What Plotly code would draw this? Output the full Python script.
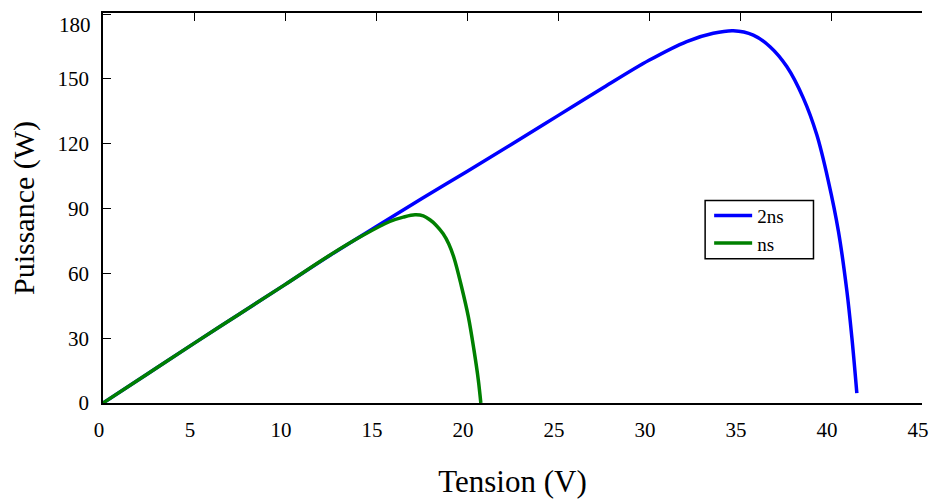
import plotly.graph_objects as go

# Series
v_2ns = [0, 2.5, 5, 7.5, 10, 12.5, 15, 17.5, 20, 22.5, 25, 27.5, 30, 32.07,
         33.53, 34.63, 35.73, 36.65, 37.57, 38.48, 39.22, 39.86, 40.41, 40.87, 41.15, 41.42]
p_2ns = [0, 13.8, 27.6, 41.2, 54.8, 68.5, 81.6, 94.5, 107.2, 120.0, 133.0, 146.0, 158.6, 167.3,
         171.1, 172.3, 170.3, 164.9, 155.7, 141.1, 124.1, 102.5, 79.4, 52.0, 30.0, 4.6]

v_ns = [0, 2.5, 5, 7.5, 10, 12.46, 14.29, 15.76, 16.5, 17.14, 17.6, 17.96, 18.3, 18.69,
        19.0, 19.3, 19.70, 20.07, 20.38, 20.62, 20.76]
p_ns = [0, 13.8, 27.6, 41.2, 54.8, 68.4, 77.6, 84.0, 86.0, 87.1, 86.6, 84.8, 82.3, 78.3,
        73.6, 66.8, 53.8, 40.1, 24.7, 10.8, 0]

x_ticks = [0, 5, 10, 15, 20, 25, 30, 35, 40, 45]
y_ticks = [0, 30, 60, 90, 120, 150, 180]
y_ticktext = ["0", "30", "60", "90", "120", "150", ""]

FONT = "Liberation Serif"

fig = go.Figure()
fig.add_trace(go.Scatter(x=v_2ns, y=p_2ns, mode="lines", name="2ns",
                         line=dict(color="#0000FF", width=3.5, shape="spline", smoothing=1.0)))
fig.add_trace(go.Scatter(x=v_ns, y=p_ns, mode="lines", name="ns",
                         line=dict(color="#008000", width=3.5, shape="spline", smoothing=1.0)))
# invisible trace for top axis
fig.add_trace(go.Scatter(x=[0, 45], y=[0, 0], xaxis="x2", mode="lines",
                         line=dict(width=0), showlegend=False, hoverinfo="skip"))

fig.update_layout(
    width=934, height=499,
    margin=dict(l=103, r=12, t=13, b=96),
    paper_bgcolor="white", plot_bgcolor="white",
    font=dict(family=FONT, color="black", size=20),
    showlegend=True,
    legend=dict(x=0.7401, y=0.5293, xanchor="left", yanchor="top",
                borderwidth=0, bgcolor="rgba(0,0,0,0)",
                font=dict(family=FONT, size=19, color="black"),
                tracegroupgap=0, itemwidth=38),
    shapes=[dict(type="rect", xref="paper", yref="paper", x0=0.7352, x1=0.8675,
                 y0=0.3697, y1=0.5191, line=dict(color="black", width=1.5),
                 fillcolor="rgba(0,0,0,0)", layer="above")],
    xaxis=dict(range=[0, 45], tickvals=x_ticks, ticks="", showgrid=False, zeroline=False,
               showline=True, linecolor="black", linewidth=1.5, automargin=False,
               tickfont=dict(family=FONT, size=21), ticklabelstandoff=7, ticklabelshift=-4,
               title=dict(text="Tension (V)", font=dict(family=FONT, size=31), standoff=29)),
    xaxis2=dict(range=[0, 45], overlaying="x", side="top", tickvals=x_ticks,
                ticks="inside", ticklen=8, tickcolor="black", showticklabels=False,
                showgrid=False, zeroline=False, showline=True, linecolor="black", linewidth=1.5,
                automargin=False),
    yaxis=dict(range=[0, 180.5], tickvals=y_ticks, ticktext=y_ticktext,
               ticks="inside", ticklen=8, tickcolor="black", automargin=False,
               showgrid=False, zeroline=False, showline=True, linecolor="black", linewidth=1.5,
               tickfont=dict(family=FONT, size=21), ticklabelstandoff=8,
               title=dict(text="Puissance (W)", font=dict(family=FONT, size=30), standoff=14)),
    annotations=[dict(text="180", x=0, xref="paper", y=180, yref="y", xanchor="right",
                      yanchor="middle", xshift=-10, yshift=-11, showarrow=False,
                      font=dict(family=FONT, size=21, color="black"))],
)

fig.write_html("out.html", config={"displayModeBar": False},
               post_script="document.body.style.margin='0';")
